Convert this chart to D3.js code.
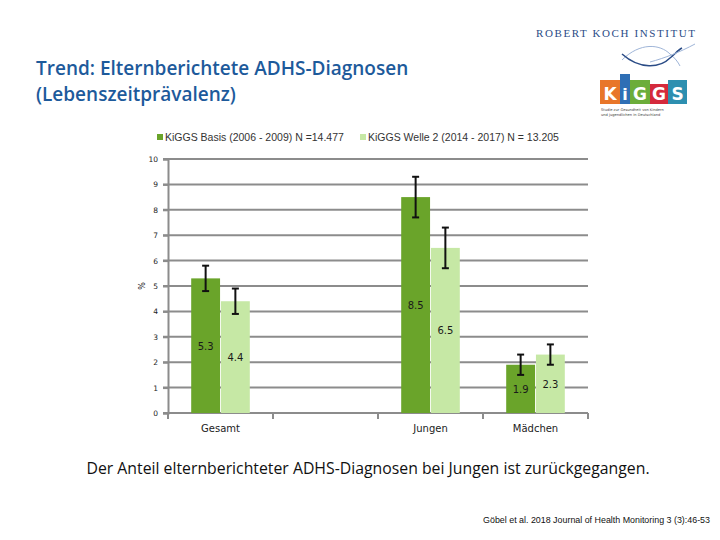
<!DOCTYPE html>
<html><head><meta charset="utf-8">
<script src="https://cdn.jsdelivr.net/npm/d3@7"></script>
<style>body{margin:0;background:#fff}svg{display:block}</style>
</head><body>
<svg id="c" width="720" height="540"></svg>
<script>
const categories = ["Gesamt", "", "Jungen", "Mädchen"];
const seriesNames = ["KiGGS Basis (2006 - 2009) N =14.477", "KiGGS Welle 2 (2014 - 2017) N = 13.205"];
const basis = [5.3, null, 8.5, 1.9];
const welle2 = [4.4, null, 6.5, 2.3];
const basisLow = [4.8, null, 7.7, 1.5];
const basisHigh = [5.8, null, 9.3, 2.3];
const welle2Low = [3.9, null, 5.7, 1.9];
const welle2High = [4.9, null, 7.3, 2.7];
const yTicks = [0,1,2,3,4,5,6,7,8,9,10];
const colors = ["#6aa42a", "#c6e8a5"];

const svg = d3.select("#c");
const x0 = d3.scaleBand().domain(categories.map((c,i)=>i)).range([168,588]);
const x1 = d3.scaleBand().domain([0,1]).range([0, x0.bandwidth()]).paddingOuter(0.78).paddingInner(0.03);
const y = d3.scaleLinear().domain([0,10]).range([413,159]);

// gridlines
svg.append("g").selectAll("line").data(yTicks).join("line")
  .attr("x1",163).attr("x2",588).attr("y1",d=>y(d)).attr("y2",d=>y(d))
  .attr("stroke","#8c8c8c").attr("stroke-width",2);
// y axis
const ya = svg.append("g").attr("transform","translate(168,0)")
  .call(d3.axisLeft(y).tickValues(yTicks).tickSize(5).tickPadding(5));
ya.select(".domain").attr("stroke","#8c8c8c").attr("stroke-width",2);
ya.selectAll(".tick line").attr("stroke","#8c8c8c").attr("stroke-width",2);
ya.selectAll("text").attr("font-family","DejaVu Sans").attr("font-size",7.5).attr("fill","#222");

svg.append("text").attr("transform","translate(145,286) rotate(-90)")
  .attr("text-anchor","middle").attr("font-family","DejaVu Sans").attr("font-size",8).attr("fill","#222").text("%");

// x axis
const xa = svg.append("g").attr("transform","translate(0,413)");
xa.append("line").attr("x1",168).attr("x2",588).attr("stroke","#8c8c8c").attr("stroke-width",2);
xa.selectAll("line.t").data(categories.map((c,i)=>i)).join("line").attr("class","t")
  .attr("x1",d=>x0(d)).attr("x2",d=>x0(d)).attr("y1",0).attr("y2",6)
  .attr("stroke","#8c8c8c").attr("stroke-width",2);
xa.append("line").attr("x1",588).attr("x2",588).attr("y1",0).attr("y2",6).attr("stroke","#8c8c8c").attr("stroke-width",2);
xa.selectAll("text").data(categories).join("text")
  .attr("x",(d,i)=>x0(i)+x0.bandwidth()/2).attr("y",19)
  .attr("text-anchor","middle").attr("font-family","DejaVu Sans").attr("font-size",10).attr("fill","#222").text(d=>d);

const series = [
  {vals:basis, lo:basisLow, hi:basisHigh},
  {vals:welle2, lo:welle2Low, hi:welle2High}
];
series.forEach((s,si)=>{
  const g = svg.append("g");
  const data = s.vals.map((v,i)=>({i,v,lo:s.lo[i],hi:s.hi[i]})).filter(d=>d.v!=null);
  g.selectAll("rect").data(data).join("rect")
    .attr("x",d=>x0(d.i)+x1(si)).attr("width",x1.bandwidth())
    .attr("y",d=>y(d.v)).attr("height",d=>y(0)-y(d.v)).attr("fill",colors[si]);
  g.selectAll("text").data(data).join("text")
    .attr("x",d=>x0(d.i)+x1(si)+x1.bandwidth()/2).attr("y",d=>(y(d.v)+y(0))/2+4)
    .attr("text-anchor","middle").attr("font-family","DejaVu Sans").attr("font-size",10).attr("fill","#1a1a1a")
    .text(d=>d.v.toFixed(1));
  const eb = g.selectAll("g.eb").data(data).join("g").attr("class","eb");
  const cx = d=>x0(d.i)+x1(si)+x1.bandwidth()/2;
  eb.append("line").attr("x1",cx).attr("x2",cx).attr("y1",d=>y(d.hi)).attr("y2",d=>y(d.lo)).attr("stroke","#111").attr("stroke-width",2);
  eb.append("line").attr("x1",d=>cx(d)-3.5).attr("x2",d=>cx(d)+3.5).attr("y1",d=>y(d.hi)).attr("y2",d=>y(d.hi)).attr("stroke","#111").attr("stroke-width",2);
  eb.append("line").attr("x1",d=>cx(d)-3.5).attr("x2",d=>cx(d)+3.5).attr("y1",d=>y(d.lo)).attr("y2",d=>y(d.lo)).attr("stroke","#111").attr("stroke-width",2);
});

// legend
const legX = [157, 360];
seriesNames.forEach((n,i)=>{
  svg.append("rect").attr("x",legX[i]).attr("y",134).attr("width",6).attr("height",6).attr("fill",colors[i]);
  svg.append("text").attr("x",legX[i]+8).attr("y",141).attr("font-family","Liberation Sans").attr("font-size",10.5).attr("fill","#333").text(n);
});

// title
const t = svg.append("text").attr("font-family","Open Sans").attr("font-weight",600).attr("font-size",19).attr("fill","#1d5a9b");
t.append("tspan").attr("x",36).attr("y",75).text("Trend: Elternberichtete ADHS-Diagnosen");
t.append("tspan").attr("x",36).attr("y",101).text("(Lebenszeitprävalenz)");

// bottom text
svg.append("text").attr("x",368).attr("y",474).attr("text-anchor","middle").attr("font-family","Open Sans")
  .attr("font-size",15.8).attr("fill","#111").text("Der Anteil elternberichteter ADHS-Diagnosen bei Jungen ist zurückgegangen.");
svg.append("text").attr("x",710).attr("y",523).attr("text-anchor","end").attr("font-family","Liberation Sans Narrow, Liberation Sans")
  .attr("font-size",8.9).attr("fill","#111").text("Göbel et al. 2018 Journal of Health Monitoring 3 (3):46-53");

// RKI logo
svg.append("text").attr("x",536).attr("y",37).attr("font-family","Liberation Serif").attr("font-size",11)
  .attr("letter-spacing",1.6).attr("fill","#2b4c86").text("ROBERT KOCH INSTITUT");
const fish = svg.append("g").attr("fill","none").attr("stroke","#9fb5d8").attr("stroke-width",1);
fish.append("path").attr("d","M622,60 C640,42 660,44 670,54 C675,58 678,62 680,66");
fish.append("path").attr("d","M622,54 C640,70 660,68 670,58 C675,54 678,50 682,48").attr("stroke","#2b4c86").attr("stroke-width",1.5);
fish.append("path").attr("d","M650,62 C665,58 680,52 695,44");
// KiGGS logo
const kg = [["K","#e8762a",600,80,20],["i","#2f6fb5",620,74,10],["G","#6cad3a",630,80,20],["G","#d42a3c",650,84,18],["S","#2d8fb0",668,80,19]];
kg.forEach(([ch,c,xx,yy,w])=>{
  svg.append("rect").attr("x",xx).attr("y",yy).attr("width",w).attr("height",104-yy).attr("fill",c);
  svg.append("text").attr("x",xx+w/2).attr("y",100).attr("text-anchor","middle").attr("font-family","DejaVu Sans").attr("font-weight","bold")
    .attr("font-size",ch==="i"?16:17).attr("fill","#fff").text(ch);
});
svg.append("text").attr("x",601).attr("y",111).attr("font-family","DejaVu Sans").attr("font-size",3.6).attr("fill","#444").text("Studie zur Gesundheit von Kindern");
svg.append("text").attr("x",601).attr("y",116).attr("font-family","DejaVu Sans").attr("font-size",3.6).attr("fill","#444").text("und Jugendlichen in Deutschland");
</script>
</body></html>
